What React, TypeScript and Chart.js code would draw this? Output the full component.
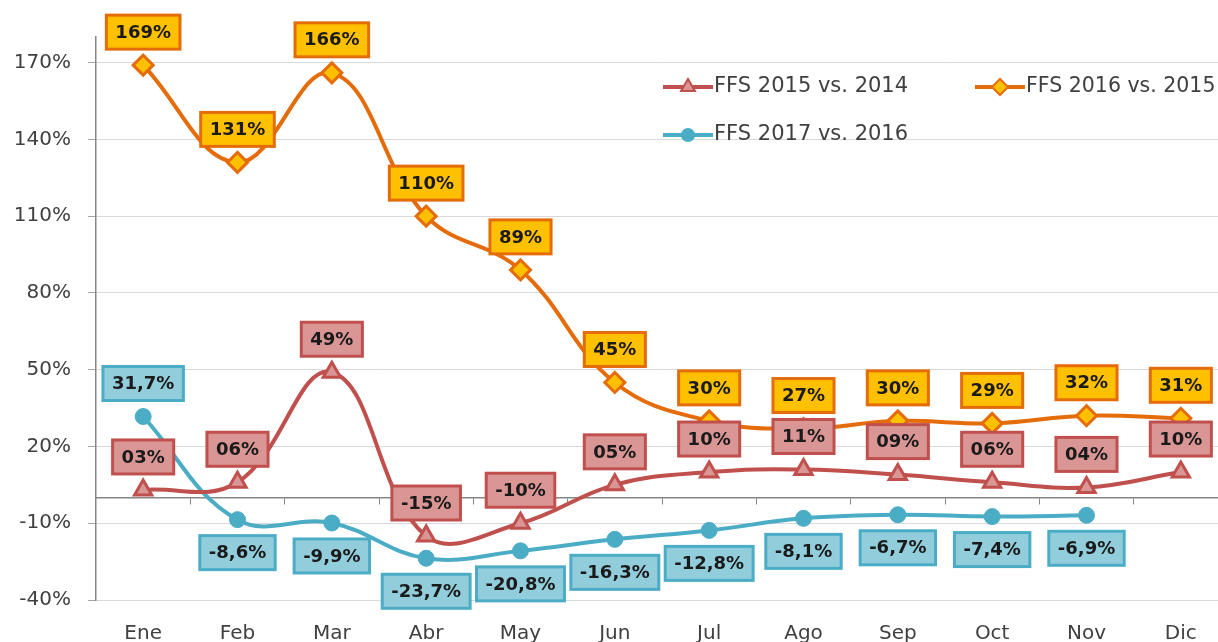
import React, { useEffect, useRef } from 'react';
import { Chart, registerables } from 'chart.js';
import { drawPoint } from 'chart.js/helpers';

Chart.register(...registerables);

const months = ['Ene', 'Feb', 'Mar', 'Abr', 'May', 'Jun', 'Jul', 'Ago', 'Sep', 'Oct', 'Nov', 'Dic'];
const ffs2015 = [3, 6, 49, -15, -10, 5, 10, 11, 9, 6, 4, 10];
const ffs2016 = [169, 131, 166, 110, 89, 45, 30, 27, 30, 29, 32, 31];
const ffs2017 = [31.7, -8.6, -9.9, -23.7, -20.8, -16.3, -12.8, -8.1, -6.7, -7.4, -6.9, null];
const yTicks = [-40, -10, 20, 50, 80, 110, 140, 170];
const seriesNames = ['FFS 2015 vs. 2014', 'FFS 2016 vs. 2015', 'FFS 2017 vs. 2016'];

const FONT = '"DejaVu Sans", "Liberation Sans", sans-serif';

const RED = '#C0504D';
const RED_FILL = '#DA9694';
const ORANGE = '#E46C0A';
const ORANGE_FILL = '#FFC000';
const BLUE = '#4BACC6';
const BLUE_FILL = '#92CDDC';

const CANVAS_W = 1241;

const fmtRed = (v: number) => (v < 0 ? '-' : '') + String(Math.abs(v)).padStart(2, '0') + '%';
const fmtOrange = (v: number) => v + '%';
const fmtBlue = (v: number) => v.toFixed(1).replace('.', ',') + '%';

const labelStyles = [
  { fill: RED_FILL, border: RED, format: fmtRed, above: (_i: number) => true },
  { fill: ORANGE_FILL, border: ORANGE, format: fmtOrange, above: (_i: number) => true },
  { fill: BLUE_FILL, border: BLUE, format: fmtBlue, above: (i: number) => i === 0 },
];

const boxLabelPlugin = {
  id: 'boxLabels',
  afterDatasetsDraw(chart: any) {
    const ctx = chart.ctx;
    ctx.save();
    ctx.font = 'bold 18px ' + FONT;
    ctx.textAlign = 'center';
    ctx.textBaseline = 'middle';
    chart.data.datasets.forEach((ds: any, di: number) => {
      const meta = chart.getDatasetMeta(di);
      const st = labelStyles[di];
      meta.data.forEach((pt: any, i: number) => {
        const v = ds.data[i];
        if (v === null || v === undefined) return;
        const text = st.format(v);
        const w = ctx.measureText(text).width + 18;
        const h = 34;
        const cy = pt.y + (st.above(i) ? -33 : 33);
        const x0 = pt.x - w / 2;
        const y0 = cy - h / 2;
        ctx.fillStyle = st.fill;
        ctx.fillRect(x0, y0, w, h);
        ctx.lineWidth = 3;
        ctx.strokeStyle = st.border;
        ctx.strokeRect(x0, y0, w, h);
        ctx.fillStyle = '#1A1A1A';
        ctx.fillText(text, pt.x, cy + 1);
      });
    });
    ctx.restore();
  },
};

const legendPlugin = {
  id: 'innerLegend',
  afterDraw(chart: any) {
    const ctx = chart.ctx;
    const items = [
      { x: 663, y: 87 },
      { x: 975, y: 87 },
      { x: 663, y: 135 },
    ];
    ctx.save();
    chart.data.datasets.forEach((ds: any, di: number) => {
      const it = items[di];
      ctx.strokeStyle = ds.borderColor;
      ctx.lineWidth = 4;
      ctx.beginPath();
      ctx.moveTo(it.x, it.y);
      ctx.lineTo(it.x + 50, it.y);
      ctx.stroke();
      ctx.fillStyle = ds.pointBackgroundColor;
      ctx.strokeStyle = ds.pointBorderColor;
      ctx.lineWidth = 2;
      drawPoint(ctx, { pointStyle: ds.pointStyle, radius: ds.pointRadius - 2, rotation: 0, borderWidth: 2 }, it.x + 25, it.y);
      ctx.fillStyle = '#404040';
      ctx.font = (di === 1 ? '20.5px ' : '21px ') + FONT;
      ctx.textAlign = 'left';
      ctx.textBaseline = 'middle';
      ctx.fillText(ds.label, it.x + 51, it.y);
    });
    ctx.restore();
  },
};

export default function App() {
  const ref = useRef<HTMLCanvasElement | null>(null);

  useEffect(() => {
    document.body.style.margin = '0';
    document.body.style.overflow = 'hidden';
    const canvas = ref.current!;
    const chart = new Chart(canvas, {
      type: 'line',
      data: {
        labels: months,
        datasets: [
          {
            label: seriesNames[0],
            data: ffs2015,
            borderColor: RED,
            backgroundColor: RED_FILL,
            pointBackgroundColor: RED_FILL,
            pointBorderColor: RED,
            pointStyle: 'triangle',
            pointRadius: 10,
            pointBorderWidth: 3,
            borderWidth: 4,
            tension: 0.4,
          },
          {
            label: seriesNames[1],
            data: ffs2016,
            borderColor: ORANGE,
            backgroundColor: ORANGE_FILL,
            pointBackgroundColor: ORANGE_FILL,
            pointBorderColor: ORANGE,
            pointStyle: 'rectRot',
            pointRadius: 10,
            pointBorderWidth: 3,
            borderWidth: 4,
            tension: 0.4,
          },
          {
            label: seriesNames[2],
            data: ffs2017,
            borderColor: BLUE,
            backgroundColor: BLUE,
            pointBackgroundColor: BLUE,
            pointBorderColor: BLUE,
            pointStyle: 'circle',
            pointRadius: 8,
            pointBorderWidth: 1,
            borderWidth: 4,
            tension: 0.4,
          },
        ],
      },
      options: {
        responsive: false,
        maintainAspectRatio: false,
        animation: false,
        devicePixelRatio: 1,
        layout: { padding: { top: 37, right: 0, left: 0, bottom: 0 } },
        plugins: {
          legend: { display: false },
          tooltip: { enabled: false },
          title: { display: false },
        },
        scales: {
          x: {
            type: 'category',
            position: 'bottom',
            offset: true,
            grid: { display: false, drawTicks: false },
            border: { display: false },
            ticks: {
              color: '#404040',
              font: { family: FONT, size: 20 },
              padding: 22,
              maxRotation: 0,
              autoSkip: false,
            },
            afterFit: (s: any) => {
              s.height = 42;
              s.paddingLeft = 0;
              s.paddingRight = 0;
            },
          },
          zero: {
            type: 'category',
            axis: 'x',
            position: { y: 0 },
            offset: true,
            grid: {
              offset: true,
              drawOnChartArea: false,
              drawTicks: true,
              tickLength: 6,
              color: '#868686',
              tickColor: '#868686',
            },
            border: { display: true, color: '#868686', width: 1.5 },
            ticks: { display: false },
            afterFit: (s: any) => {
              s.paddingLeft = 0;
              s.paddingRight = 0;
            },
          },
          y: {
            type: 'linear',
            min: -40,
            max: 180,
            afterBuildTicks: (s: any) => {
              s.ticks = yTicks.map((v) => ({ value: v }));
            },
            afterFit: (s: any) => {
              s.width = 96;
            },
            grid: {
              color: '#D9D9D9',
              tickColor: '#A6A6A6',
              tickLength: 8,
              lineWidth: 1,
            },
            border: { display: true, color: '#868686', width: 1.5 },
            ticks: {
              color: '#404040',
              font: { family: FONT, size: 20 },
              padding: 17,
              callback: (v: any) => v + '%',
            },
          },
        },
      } as any,
      plugins: [boxLabelPlugin, legendPlugin],
    });
    return () => chart.destroy();
  }, []);

  return (
    <div style={{ position: 'fixed', left: 0, top: 0, width: 1218, height: 642, overflow: 'hidden', background: '#fff' }}>
      <div style={{ position: 'absolute', left: 0, top: 0, width: CANVAS_W, height: 642 }}>
        <canvas ref={ref} width={CANVAS_W} height={642} style={{ display: 'block', width: CANVAS_W, height: 642 }} />
      </div>
    </div>
  );
}
